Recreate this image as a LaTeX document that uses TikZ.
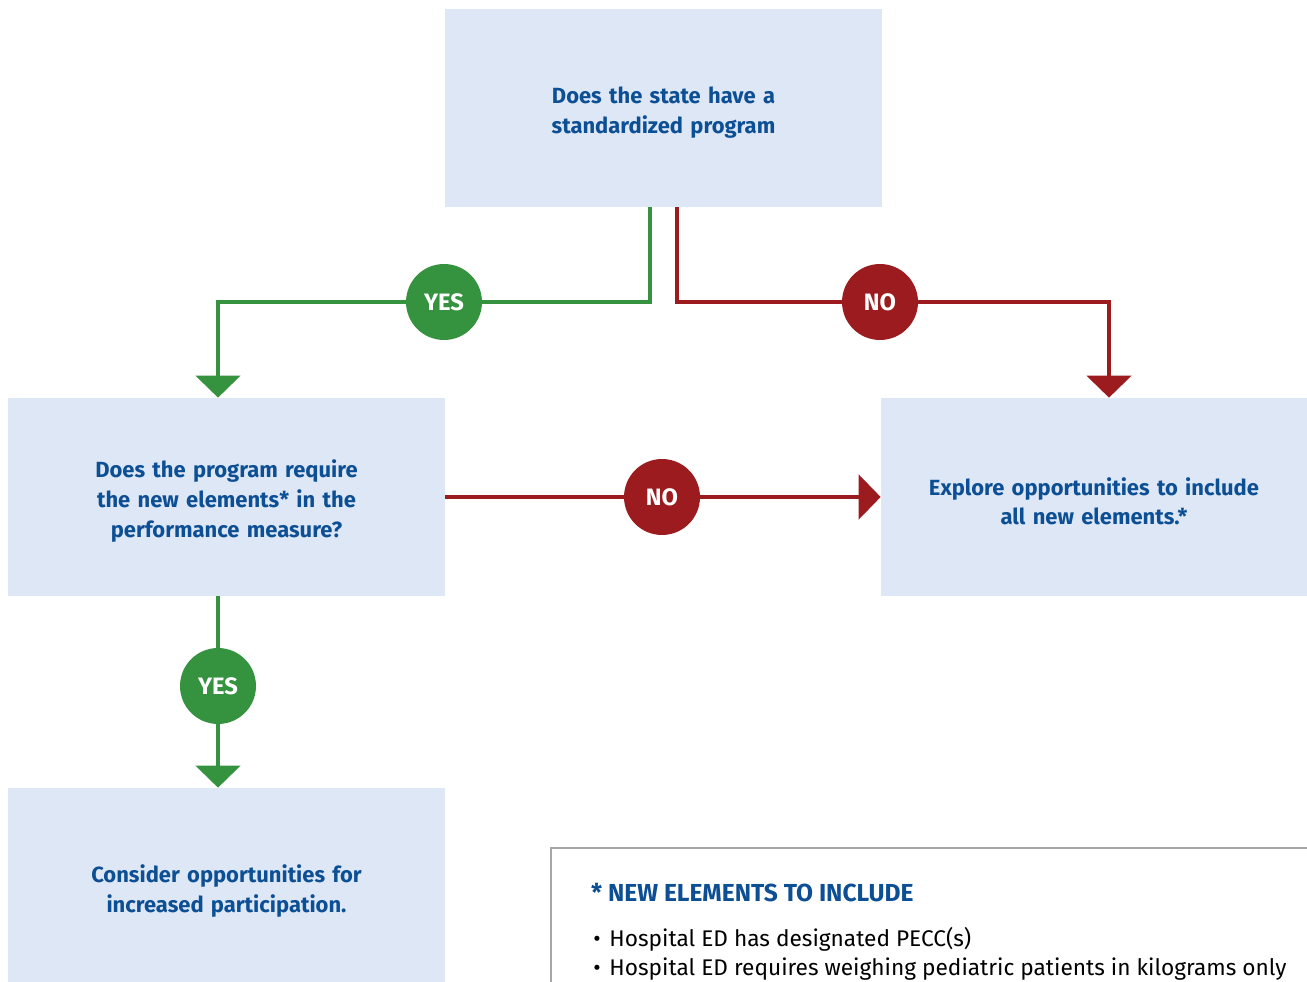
\documentclass[tikz,border=0pt]{standalone}
\usepackage{fontspec}
\setmainfont{Fira Sans}
\usetikzlibrary{arrows.meta,calc}
\definecolor{boxfill}{HTML}{DEE7F5}
\definecolor{textblue}{HTML}{0D4F94}
\definecolor{yesgreen}{HTML}{35923F}
\definecolor{nored}{HTML}{9B1B1F}
\begin{document}
\begin{tikzpicture}[x=0.02cm,y=-0.02cm,
    qbox/.style={fill=boxfill, draw=none, minimum width=8.74cm, minimum height=3.96cm,
        text width=8cm, align=center, text=textblue, font=\fontsize{12.5pt}{17pt}\selectfont\bfseries,
        execute at begin node={\rule{0pt}{15pt}}},
    yline/.style={yesgreen, line width=2.8pt},
    nline/.style={nored, line width=2.8pt},
    tip/.style={-{Triangle[width=25pt,length=12.5pt]}},
    yesdot/.style={circle, fill=yesgreen, minimum size=1.52cm, inner sep=0pt, text=white,
        font=\fontsize{13.5pt}{15pt}\selectfont\bfseries},
    nodot/.style={yesdot, fill=nored}]
    \useasboundingbox (0,0) rectangle (1307,982);
    % question boxes
    \node[qbox] (state) at (663.5,108) {Does the state have a\\standardized program};
    \node[qbox] (require) at (226.5,497) {Does the program require\\the new elements* in the\\performance measure?};
    \node[qbox, minimum width=8.52cm] (explore) at (1094,497) {Explore opportunities to include\\all new elements.*};
    \begin{scope}
    \clip (0,0) rectangle (1307,982);
    \node[qbox] (consider) at (226.5,887) {Consider opportunities for\\increased participation.};
    % legend
    \draw[gray!70, line width=0.6pt] (1330,848) -| (551,1000);
    \end{scope}
    \node[anchor=west, text=textblue, font=\fontsize{14pt}{16pt}\selectfont\bfseries] (legtitle) at (585,893) {* NEW ELEMENTS TO INCLUDE};
    \node[anchor=north west, align=left, inner sep=0pt, font=\fontsize{12.9pt}{16.5pt}\selectfont] (leglist) at (593,927)
        {\textbullet\hspace{5pt}Hospital ED has designated PECC(s)\\
         \textbullet\hspace{5pt}Hospital ED requires weighing pediatric patients in kilograms only};
    % circles
    \coordinate (yes1) at (444,302);
    \coordinate (no1) at (880,302);
    \coordinate (no2) at (662,497);
    \coordinate (yes2) at (218,686);
    % connectors
    \draw[yline, tip] ($(state.south)+(-13.5,0)$) |- (yes1) -| ($(require.north)+(-8.5,0)$);
    \draw[nline, tip] ($(state.south)+(13.5,0)$) |- (no1) -| ($(explore.north)+(15,0)$);
    \draw[nline, tip] (require.east) -- (explore.west);
    \draw[yline, tip] ($(require.south)+(-8.5,0)$) -- ($(consider.north)+(-8.5,0)$);
    \node[yesdot] at (yes1) {YES};
    \node[nodot] at (no1) {NO};
    \node[nodot] at (no2) {NO};
    \node[yesdot] at (yes2) {YES};
\end{tikzpicture}
\end{document}
